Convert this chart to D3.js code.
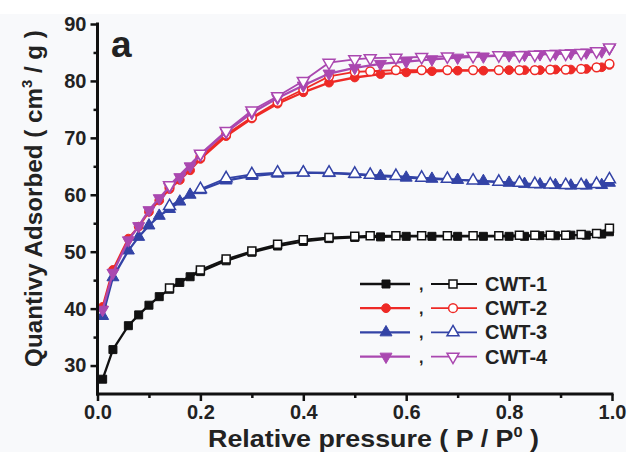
<!DOCTYPE html>
<html><head><meta charset="utf-8">
<script src="https://cdn.jsdelivr.net/npm/d3@7"></script>
<style>html,body{margin:0;padding:0;background:#fff;}svg{display:block;}</style>
</head><body><svg id="c" width="628" height="452"></svg>
<script>
const pAds = [0.01,0.03,0.06,0.08,0.10,0.12,0.14,0.16,0.18,0.20,0.25,0.30,0.35,0.40,0.45,0.50,0.55,0.60,0.65,0.70,0.75,0.80,0.83,0.86,0.89,0.92,0.95,0.98,0.995];
const pDes = [0.995,0.97,0.94,0.91,0.88,0.85,0.82,0.78,0.73,0.68,0.63,0.58,0.53,0.50,0.45,0.40,0.35,0.30,0.25,0.20,0.14];

const cwt1Ads = [27.6,32.8,37.0,38.9,40.6,42.1,43.4,44.6,45.6,46.5,48.4,49.9,51.0,51.8,52.3,52.5,52.6,52.7,52.7,52.7,52.7,52.7,52.7,52.8,52.8,52.9,52.9,53.1,53.5];
const cwt1Des = [54.1,53.2,53.0,52.9,52.9,52.9,52.9,52.8,52.8,52.8,52.8,52.8,52.8,52.7,52.5,52.1,51.3,50.1,48.7,46.8,43.6];
const cwt2Ads = [40.3,46.8,52.3,54.4,57.0,59.0,61.0,62.6,64.3,66.3,70.3,73.4,76.0,78.0,79.7,80.6,81.2,81.5,81.7,81.8,81.8,81.9,81.9,81.9,82.0,82.0,82.1,82.4,82.8];
const cwt2Des = [83.0,82.4,82.1,82.0,82.0,81.9,81.9,81.9,81.9,81.9,81.9,81.9,81.7,81.6,80.8,78.5,76.3,73.6,70.6,66.6,61.3];
const cwt3Ads = [38.7,45.5,50.2,52.6,54.6,56.3,57.5,58.8,60.0,60.8,62.5,63.3,63.7,63.9,63.8,63.6,63.3,63.0,62.8,62.6,62.4,62.1,61.9,61.8,61.7,61.6,61.6,61.7,62.1];
const cwt3Des = [62.7,61.9,61.7,61.7,61.8,61.9,62.1,62.3,62.5,62.8,63.0,63.3,63.5,63.7,63.9,63.9,63.9,63.6,62.9,61.0,58.0];
const cwt4Ads = [39.8,46.3,52.0,54.5,57.3,59.4,61.4,63.1,65.0,67.0,71.0,74.4,77.0,79.2,81.3,82.3,83.0,83.4,83.8,84.1,84.3,84.5,84.6,84.7,84.8,84.9,85.0,85.2,85.7];
const cwt4Des = [85.9,85.2,84.9,84.8,84.7,84.6,84.5,84.5,84.4,84.3,84.2,84.1,84.0,83.8,83.2,80.0,77.3,74.8,71.2,67.2,61.7];

const seriesNames = ["CWT-1","CWT-2","CWT-3","CWT-4"];
const seriesColors = ["#111111","#ee2a26","#3343a6","#aa48b0"];
const seriesShapes = ["square","circle","triangle","triangleDown"];
const xTicks = [0.0,0.2,0.4,0.6,0.8,1.0];
const yTicks = [30,40,50,60,70,80,90];

const svg = d3.select("#c");
svg.append("rect").attr("x",0).attr("y",14).attr("width",626).attr("height",438).attr("fill","#f8f9fb");

const x = d3.scaleLinear().domain([0,1]).range([97.5,612]);
const y = d3.scaleLinear().domain([25,90]).range([394,24]);

const adsData = [cwt1Ads,cwt2Ads,cwt3Ads,cwt4Ads];
const desData = [cwt1Des,cwt2Des,cwt3Des,cwt4Des];

const symTypes = {square:d3.symbolSquare, circle:d3.symbolCircle, triangle:d3.symbolTriangle, triangleDown:d3.symbolTriangle};
const symSizes = {square:64, circle:60, triangle:62, triangleDown:62};
function marker(g, shape, color, filled, cx, cy){
  const s = d3.symbol().type(symTypes[shape]).size(symSizes[shape]);
  g.append("path").attr("d", s())
    .attr("transform", `translate(${cx},${cy})` + (shape==="triangleDown" ? " rotate(180)" : ""))
    .attr("fill", filled ? color : "#ffffff")
    .attr("stroke", color).attr("stroke-width", filled ? 1 : 1.5);
}

const line = d3.line().x(d=>x(d[0])).y(d=>y(d[1]));
const plot = svg.append("g");
seriesNames.forEach((n,i)=>{
  const ads = pAds.map((p,k)=>[p,adsData[i][k]]);
  const des = pDes.map((p,k)=>[p,desData[i][k]]);
  const g = plot.append("g");
  g.append("path").datum(ads).attr("d",line).attr("fill","none").attr("stroke",seriesColors[i]).attr("stroke-width",2.3);
  g.append("path").datum(des).attr("d",line).attr("fill","none").attr("stroke",seriesColors[i]).attr("stroke-width",1.8);
  ads.forEach(d=>marker(g, seriesShapes[i], seriesColors[i], true, x(d[0]), y(d[1])));
  des.forEach(d=>marker(g, seriesShapes[i], seriesColors[i], false, x(d[0]), y(d[1])));
});

// axes
const font = "'Liberation Sans', Arial, sans-serif";
const xAxis = d3.axisBottom(x).tickValues(xTicks).tickFormat(d3.format(".1f")).tickSize(7).tickPadding(4);
const xMinor = d3.axisBottom(x).tickValues([0.1,0.3,0.5,0.7,0.9]).tickFormat("").tickSize(4);
const yAxis = d3.axisLeft(y).tickValues(yTicks).tickFormat(d3.format("d")).tickSize(7).tickPadding(4);
const yMinor = d3.axisLeft(y).tickValues([35,45,55,65,75,85]).tickFormat("").tickSize(4);

function styleAxis(g){
  g.select(".domain").attr("stroke","#111").attr("stroke-width",3);
  g.selectAll(".tick line").attr("stroke","#111").attr("stroke-width",2.5);
  g.selectAll(".tick text").attr("fill","#222").attr("font-family",font).attr("font-weight","bold").attr("font-size","20px");
}
const gx = svg.append("g").attr("transform","translate(0,394)").call(xAxis).call(styleAxis);
gx.select(".domain").attr("d", `M${x(0)-1.5},0H${x(1)+1.5}`);
const gxm = svg.append("g").attr("transform","translate(0,394)").call(xMinor).call(styleAxis);
gxm.select(".domain").remove();
const gy = svg.append("g").attr("transform","translate(97.5,0)").call(yAxis).call(styleAxis);
gy.select(".domain").attr("d", `M0,${y(25)+1.5}V${y(90)-1.5}`);
const gym = svg.append("g").attr("transform","translate(97.5,0)").call(yMinor).call(styleAxis);
gym.select(".domain").remove();

// axis labels (scaled horizontally to the reference's wide lettering)
function fitText(t, target){
  const w = t.node().getComputedTextLength();
  return target / w;
}
const xlg = svg.append("g");
const xl = xlg.append("text").attr("x",0).attr("y",0).attr("text-anchor","middle")
  .attr("font-family",font).attr("font-weight","bold").attr("font-size","23px").attr("fill","#222");
xl.append("tspan").text("Relative pressure ( P / P");
xl.append("tspan").text("0").attr("font-size","14px").attr("dy",-10);
xl.append("tspan").text(" )").attr("dy",10);
const sx = fitText(xl, 331);
xlg.attr("transform",`translate(373.5,447) scale(${sx},1)`);

const ylg = svg.append("g");
const yl = ylg.append("text").attr("x",0).attr("y",0).attr("text-anchor","middle")
  .attr("font-family",font).attr("font-weight","bold").attr("font-size","23px").attr("fill","#222");
yl.append("tspan").text("Quantivy Adsorbed ( cm");
yl.append("tspan").text("3").attr("font-size","14px").attr("dy",-10);
yl.append("tspan").text(" / g )").attr("dy",10);
const sy = fitText(yl, 337);
ylg.attr("transform",`translate(42,198.5) rotate(-90) scale(${sy},1)`);

svg.append("text").attr("x",111).attr("y",57).attr("font-family",font).attr("font-weight","bold")
  .attr("font-size","37px").attr("fill","#222").text("a");

// legend
const leg = svg.append("g");
seriesNames.forEach((n,i)=>{
  const ly = 284 + i*24.2;
  const c = seriesColors[i];
  leg.append("line").attr("x1",360).attr("x2",410).attr("y1",ly).attr("y2",ly).attr("stroke",c).attr("stroke-width",2.3);
  marker(leg, seriesShapes[i], c, true, 386, ly);
  leg.append("text").attr("x",419).attr("y",ly+6).attr("font-family",font).attr("font-weight","bold").attr("font-size","16px").attr("fill","#222").text(",");
  leg.append("line").attr("x1",431).attr("x2",477).attr("y1",ly).attr("y2",ly).attr("stroke",c).attr("stroke-width",1.8);
  marker(leg, seriesShapes[i], c, false, 453, ly);
  leg.append("text").attr("x",485).attr("y",ly+7).attr("font-family",font).attr("font-weight","bold").attr("font-size","20px").attr("fill","#222").text(n);
});
</script></body></html>
